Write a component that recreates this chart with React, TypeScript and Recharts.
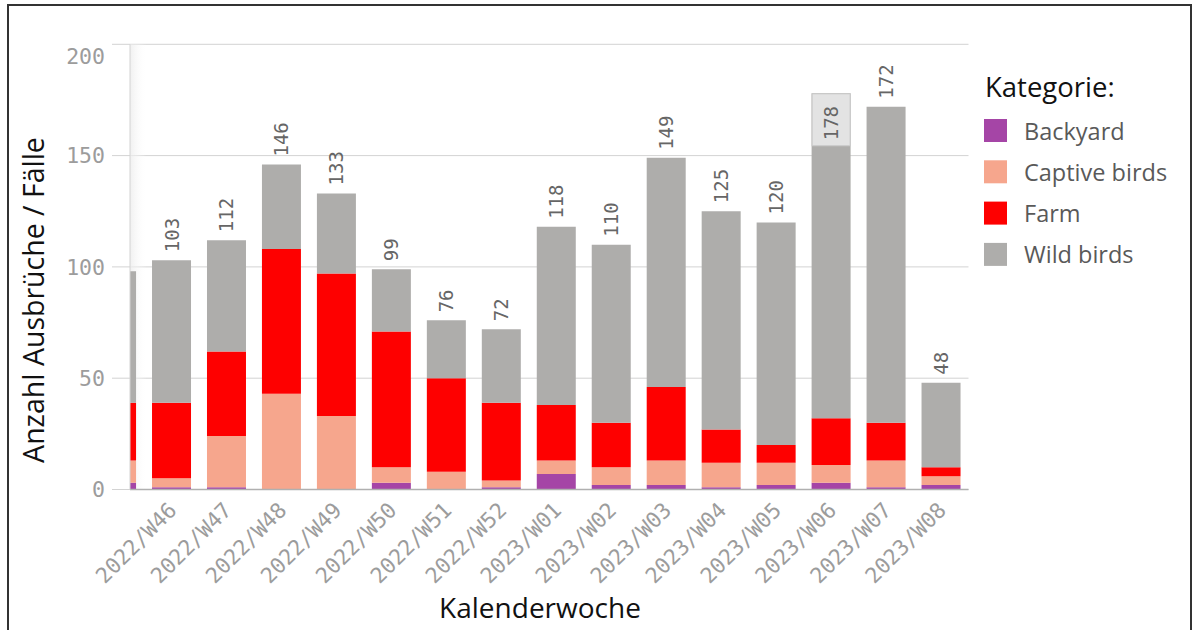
import {
  BarChart,
  Bar,
  XAxis,
  YAxis,
  CartesianGrid,
  LabelList,
  Legend,
  Label,
  ReferenceArea,
} from "recharts";

const WEEKS = [
  "2022/W45",
  "2022/W46",
  "2022/W47",
  "2022/W48",
  "2022/W49",
  "2022/W50",
  "2022/W51",
  "2022/W52",
  "2023/W01",
  "2023/W02",
  "2023/W03",
  "2023/W04",
  "2023/W05",
  "2023/W06",
  "2023/W07",
  "2023/W08",
];

const BACKYARD = [3, 1, 1, 0, 0, 3, 0, 1, 7, 2, 2, 1, 2, 3, 1, 2];
const CAPTIVE = [10, 4, 23, 43, 33, 7, 8, 3, 6, 8, 11, 11, 10, 8, 12, 4];
const FARM = [26, 34, 38, 65, 64, 61, 42, 35, 25, 20, 33, 15, 8, 21, 17, 4];
const WILD = [59, 64, 50, 38, 36, 28, 26, 33, 80, 80, 103, 98, 100, 146, 142, 38];

const Y_TICKS = [0, 50, 100, 150, 200];
const X_TICKS = [1, 2, 3, 4, 5, 6, 7, 8, 9, 10, 11, 12, 13, 14, 15];

const SERIES = [
  { key: "backyard", name: "Backyard", color: "#a545a6" },
  { key: "captive", name: "Captive birds", color: "#f6a68d" },
  { key: "farm", name: "Farm", color: "#fe0000" },
  { key: "wild", name: "Wild birds", color: "#aeadab" },
];

const data = WEEKS.map((week, i) => ({
  idx: i,
  week,
  backyard: BACKYARD[i],
  captive: CAPTIVE[i],
  farm: FARM[i],
  wild: WILD[i],
  total: BACKYARD[i] + CAPTIVE[i] + FARM[i] + WILD[i],
}));

const MONO = "'DejaVu Sans Mono', monospace";
const SANS = "'Open Sans', 'Noto Sans', sans-serif";
const PLOT_TOP = 44.3;

function YTick({ x, y, payload }: any) {
  // the top label is kept inside the chart, like the original
  const shift = payload.value === 200 ? 12 : 0;
  return (
    <text
      x={x}
      y={y + shift}
      dy="0.36em"
      textAnchor="end"
      fontFamily={MONO}
      fontSize={21.5}
      fill="#9c9c9c"
    >
      {payload.value}
    </text>
  );
}

function XTick({ x, y, payload }: any) {
  return (
    <g transform={`translate(${x + 6.5},${y + 22})`}>
      <text
        textAnchor="end"
        transform="rotate(-45)"
        fontFamily={MONO}
        fontSize={21.5}
        fill="#9c9c9c"
      >
        {WEEKS[payload.value]}
      </text>
    </g>
  );
}

function TotalLabel(props: any) {
  const { x, y, width, value, index } = props;
  if (index === 0) return null;
  const cx = Number(x) + Number(width) / 2;
  const top = Number(y);
  if (top - 50 < PLOT_TOP) {
    return (
      <g>
        <rect
          x={Number(x) + 0.5}
          y={top + 0.5}
          width={Number(width) - 1}
          height={52}
          fill="#e3e3e3"
          stroke="#c9c9c9"
        />
        <text
          transform={`translate(${cx + 7},${top + 47}) rotate(-90)`}
          textAnchor="start"
          fontFamily={MONO}
          fontSize={19}
          fill="#666"
        >
          {value}
        </text>
      </g>
    );
  }
  return (
    <text
      transform={`translate(${cx + 7},${top - 8}) rotate(-90)`}
      textAnchor="start"
      fontFamily={MONO}
      fontSize={19}
      fill="#666"
    >
      {value}
    </text>
  );
}

function LegendBox() {
  return (
    <svg width={200} height={240} style={{ display: "block", overflow: "visible" }}>
      <text x={1} y={47} fontFamily={SANS} fontSize={27.5} fill="#111">
        Kategorie:
      </text>
      {SERIES.map((s, i) => (
        <g key={s.key}>
          <rect x={0} y={69 + i * 41.3} width={23} height={23} fill={s.color} />
          <text
            x={40}
            y={89.5 + i * 41.3}
            fontFamily={SANS}
            fontSize={23.5}
            fill="#595959"
          >
            {s.name}
          </text>
        </g>
      ))}
    </svg>
  );
}

export default function App() {
  return (
    <div
      style={{
        position: "fixed",
        left: 0,
        top: 0,
        width: 1197,
        height: 630,
        overflow: "hidden",
        background: "#fff",
      }}
    >
      <div style={{ position: "absolute", left: 0, top: 0 }}>
        <BarChart
          width={1197}
          height={630}
          data={data}
          margin={{ top: PLOT_TOP, right: 228.5, left: 0, bottom: 0 }}
        >
          <defs>
            <linearGradient id="leftFade" x1="0" y1="0" x2="1" y2="0">
              <stop offset="0%" stopColor="#ececec" stopOpacity={0.8} />
              <stop offset="100%" stopColor="#ffffff" stopOpacity={0} />
            </linearGradient>
          </defs>
          <CartesianGrid vertical={false} stroke="#d3d3d3" />
          <XAxis
            dataKey="idx"
            type="number"
            domain={[0.245, 15.5]}
            allowDataOverflow
            ticks={X_TICKS}
            interval={0}
            height={140.5}
            tickLine={false}
            tickSize={0}
            tickMargin={0}
            axisLine={{ stroke: "#b0b0b0", strokeWidth: 1.5 }}
            tick={<XTick />}
          >
            <Label
              content={() => (
                <text
                  x={540}
                  y={618}
                  textAnchor="middle"
                  fontFamily={SANS}
                  fontSize={28}
                  fill="#111"
                >
                  Kalenderwoche
                </text>
              )}
            />
          </XAxis>
          <YAxis
            width={130}
            domain={[0, 200]}
            ticks={Y_TICKS}
            tickSize={18}
            tickMargin={7}
            tickLine={{ stroke: "#d3d3d3" }}
            axisLine={{ stroke: "#d3d3d3" }}
            tick={<YTick />}
          >
            <Label
              content={() => (
                <text
                  transform="translate(44,300) rotate(-90)"
                  textAnchor="middle"
                  fontFamily={SANS}
                  fontSize={28.5}
                  fill="#111"
                >
                  Anzahl Ausbrüche / Fälle
                </text>
              )}
            />
          </YAxis>
          <ReferenceArea
            x1={0.245}
            x2={0.55}
            y1={0}
            y2={200}
            fill="url(#leftFade)"
            fillOpacity={1}
            stroke="none"
          />
          {SERIES.map((s) => (
            <Bar
              key={s.key}
              dataKey={s.key}
              name={s.name}
              stackId="a"
              fill={s.color}
              barSize={39}
              isAnimationActive={false}
            >
              {s.key === "wild" ? (
                <LabelList dataKey="total" content={<TotalLabel />} />
              ) : null}
            </Bar>
          ))}
          <Legend
            layout="vertical"
            align="center"
            verticalAlign="middle"
            wrapperStyle={{ left: 984, top: 50, width: 200 }}
            content={() => <LegendBox />}
          />
        </BarChart>
      </div>
      <div
        style={{
          position: "absolute",
          left: 7,
          top: 4,
          width: 1185,
          height: 660,
          border: "2px solid #333",
          boxSizing: "border-box",
          pointerEvents: "none",
        }}
      />
    </div>
  );
}
